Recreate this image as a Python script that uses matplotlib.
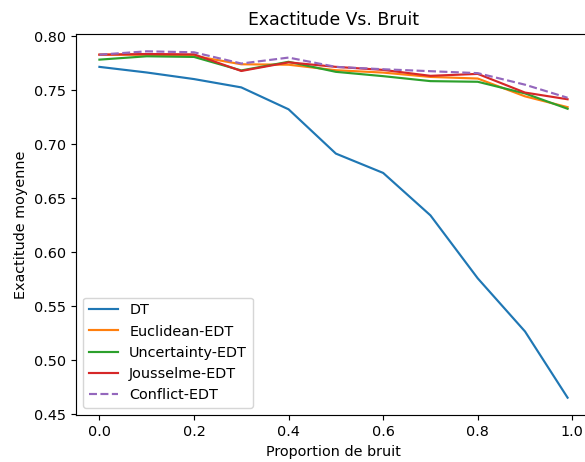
import matplotlib
matplotlib.use("Agg")
import matplotlib.pyplot as plt

noise = [0.0, 0.1, 0.2, 0.3, 0.4, 0.5, 0.6, 0.7, 0.8, 0.9, 0.99]
dt = [0.7718, 0.7666, 0.7605, 0.7528, 0.7325, 0.6915, 0.6736, 0.6343, 0.5760, 0.5268, 0.4655]
euclidean = [0.7831, 0.7830, 0.7820, 0.7742, 0.7738, 0.7687, 0.7665, 0.7625, 0.7610, 0.7445, 0.7345]
uncertainty = [0.7785, 0.7816, 0.7810, 0.7685, 0.7765, 0.7672, 0.7632, 0.7586, 0.7580, 0.7472, 0.7330]
jousselme = [0.7831, 0.7837, 0.7834, 0.7680, 0.7760, 0.7718, 0.7690, 0.7635, 0.7653, 0.7480, 0.7418]
conflict = [0.7831, 0.7862, 0.7853, 0.7749, 0.7804, 0.7718, 0.7696, 0.7678, 0.7660, 0.7553, 0.7432]

DPI = 103.5
fig = plt.figure(figsize=(585 / DPI, 462 / DPI), dpi=DPI)
ax = fig.add_axes([76/585, 1-415/462, (591-76)/585, (415-34)/462])
ax.plot(noise, dt, label="DT")
ax.plot(noise, euclidean, label="Euclidean-EDT")
ax.plot(noise, uncertainty, label="Uncertainty-EDT")
ax.plot(noise, jousselme, label="Jousselme-EDT")
ax.plot(noise, conflict, "--", label="Conflict-EDT")
ax.set_title("Exactitude Vs. Bruit")
ax.set_xlabel("Proportion de bruit")
ax.set_ylabel("Exactitude moyenne")
ax.legend(loc="lower left")
fig.savefig("out.png", dpi=DPI)
